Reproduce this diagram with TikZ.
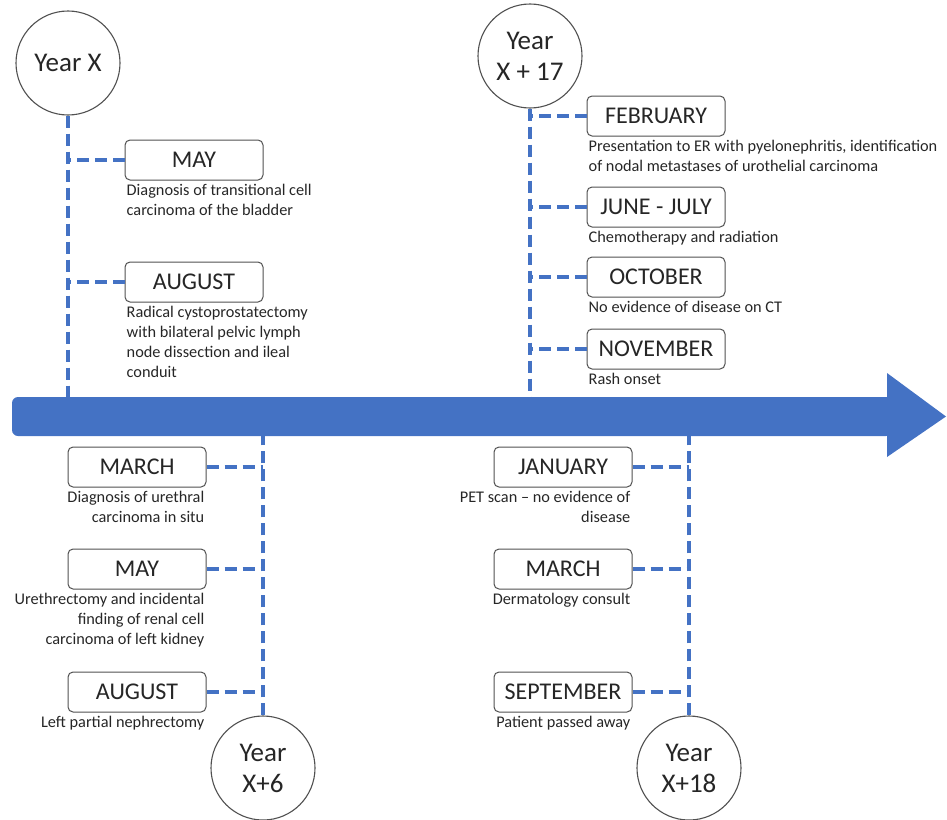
\documentclass[tikz,border=0pt]{standalone}
\usepackage{fontspec}
\setmainfont{Carlito}
\definecolor{tlblue}{HTML}{4472C4}
\definecolor{inkgray}{HTML}{262626}

\begin{document}
\begin{tikzpicture}[
    x=1pt, y=-1pt, % pixel-like units, y downwards
    year/.style={draw=inkgray!80, line width=1.1pt, circle, fill=white, minimum size=104pt, inner sep=0pt, align=center, text=inkgray, font=\fontsize{27}{31}\selectfont},
    month/.style={draw=inkgray!80, line width=1pt, rounded corners=5pt, fill=white, minimum width=138pt, minimum height=40pt, inner sep=0pt, text=inkgray, font=\fontsize{24}{28}\selectfont},
    note/.style={inner xsep=2pt, inner ysep=3pt, text=inkgray, font=\fontsize{16.3}{20}\selectfont},
    link/.style={draw=tlblue, line width=4pt, dash pattern=on 12pt off 6pt}
]
\useasboundingbox (0,0) rectangle (947,819);

% Timeline bar
\fill[tlblue, rounded corners=6pt] (12,397) rectangle (892,436);
\fill[tlblue] (887,373) -- (946,416.5) -- (887,457) -- cycle;
\coordinate (bartop) at (0,397);
\coordinate (barbot) at (0,436);

% Years
\node[year] (yrX) at (68,63) {Year X};
\node[year] (yr17) at (530,56) {Year\\X + 17};
\node[year] (yr6) at (263,768) {Year\\X+6};
\node[year] (yr18) at (689,768) {Year\\X+18};

% Months, year X
\node[month] (mayX) at (194,160) {MAY};
\node[month] (augX) at (194,282) {AUGUST};
\node[note, anchor=north west, align=left] (mayXn) at (mayX.south west) {Diagnosis of transitional cell\\carcinoma of the bladder};
\node[note, anchor=north west, align=left] (augXn) at (augX.south west) {Radical cystoprostatectomy\\with bilateral pelvic lymph\\node dissection and ileal\\conduit};

% Months, year X+17
\node[month] (feb17) at (656,116) {FEBRUARY};
\node[month] (jun17) at (656,207) {JUNE - JULY};
\node[month] (oct17) at (656,277) {OCTOBER};
\node[month] (nov17) at (656,349) {NOVEMBER};
\node[note, anchor=north west, align=left] (feb17n) at (feb17.south west) {Presentation to ER with pyelonephritis, identification\\of nodal metastases of urothelial carcinoma};
\node[note, anchor=north west, align=left] (jun17n) at (jun17.south west) {Chemotherapy and radiation};
\node[note, anchor=north west, align=left] (oct17n) at (oct17.south west) {No evidence of disease on CT};
\node[note, anchor=north west, align=left] (nov17n) at (nov17.south west) {Rash onset};

% Months, year X+6
\node[month] (mar6) at (137,467) {MARCH};
\node[month] (may6) at (137,569) {MAY};
\node[month] (aug6) at (137,692) {AUGUST};
\node[note, anchor=north east, align=right] (mar6n) at (mar6.south east) {Diagnosis of urethral\\carcinoma in situ};
\node[note, anchor=north east, align=right] (may6n) at (may6.south east) {Urethrectomy and incidental\\finding of renal cell\\carcinoma of left kidney};
\node[note, anchor=north east, align=right] (aug6n) at (aug6.south east) {Left partial nephrectomy};

% Months, year X+18
\node[month] (jan18) at (563,467) {JANUARY};
\node[month] (mar18) at (563,569) {MARCH};
\node[month] (sep18) at (563,692) {SEPTEMBER};
\node[note, anchor=north east, align=right] (jan18n) at (jan18.south east) {PET scan – no evidence of\\disease};
\node[note, anchor=north east, align=right] (mar18n) at (mar18.south east) {Dermatology consult};
\node[note, anchor=north east, align=right] (sep18n) at (sep18.south east) {Patient passed away};

% Connectors
\draw[link] (yrX) -- (yrX |- bartop);
\draw[link] (mayX) -- (mayX -| yrX);
\draw[link] (augX) -- (augX -| yrX);

\draw[link] (yr17) -- (yr17 |- bartop);
\draw[link] (feb17) -- (feb17 -| yr17);
\draw[link] (jun17) -- (jun17 -| yr17);
\draw[link] (oct17) -- (oct17 -| yr17);
\draw[link] (nov17) -- (nov17 -| yr17);

\draw[link] (yr6) -- (yr6 |- barbot);
\draw[link] (mar6) -- (mar6 -| yr6);
\draw[link] (may6) -- (may6 -| yr6);
\draw[link] (aug6) -- (aug6 -| yr6);

\draw[link] (yr18) -- (yr18 |- barbot);
\draw[link] (jan18) -- (jan18 -| yr18);
\draw[link] (mar18) -- (mar18 -| yr18);
\draw[link] (sep18) -- (sep18 -| yr18);

\end{tikzpicture}
\end{document}
